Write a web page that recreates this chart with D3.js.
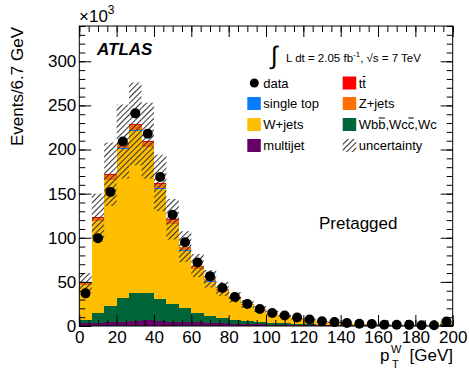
<!DOCTYPE html>
<html>
<head>
<meta charset="utf-8">
<script src="https://cdn.jsdelivr.net/npm/d3@7"></script>
<style>
  body { margin: 0; background: #fff; }
  text { font-family: "Liberation Sans", Arial, Helvetica, sans-serif; fill: #000; }
</style>
</head>
<body>
<div id="chart"></div>
<script>
// 30 bins of 6.7 GeV between 0 and 200 GeV, values in units of 10^3 events
const nBins = 30;
const binWidth = 200 / nBins;

const dataCounts = [37, 99.5, 152, 209, 241, 218, 169, 126, 95, 72, 56.5, 43, 33, 25, 19.3,
  14.8, 11.8, 9.6, 7.4, 5.3, 4.4, 3.3, 2.6, 2.2, 1.4, 1.4, 1.3, 0.8, 0.8, 5.2];

const multijet = [3.5, 3.5, 4, 5, 6, 6.5, 6, 5, 4.5, 4, 3.5, 3, 2.5, 2, 1.8,
  1.5, 1.3, 1.1, 1, 0.9, 0.8, 0.7, 0.6, 0.5, 0.4, 0.4, 0.3, 0.3, 0.3, 1];
const wHeavy = [3.3, 10.9, 18.7, 26.4, 31.8, 31, 25, 19.5, 15.5, 11, 7.5, 5.8, 4.5, 3.5, 2.5,
  2, 1.6, 1.3, 1, 0.8, 0.6, 0.5, 0.4, 0.4, 0.4, 0.3, 0.3, 0.2, 0.2, 0.8];
const wJets = [39.5, 104.6, 142.4, 169.4, 183.2, 164.9, 124.4, 91, 65.4, 49.7, 39.3, 30.6, 23.4, 17.8, 13.5,
  10.1, 7.6, 6, 4.5, 3.3, 2.55, 1.94, 1.52, 1.07, 0.81, 0.64, 0.46, 0.39, 0.31, 2.6];
const singleTop = [0.1, 0.3, 0.5, 0.6, 0.7, 0.7, 0.6, 0.5, 0.4, 0.35, 0.3, 0.25, 0.2, 0.17, 0.14,
  0.12, 0.1, 0.08, 0.07, 0.06, 0.05, 0.04, 0.03, 0.03, 0.02, 0.02, 0.02, 0.01, 0.01, 0.1];
const zJets = [3.5, 3.5, 6, 7, 6.5, 6, 5, 4, 3.3, 2.7, 2.2, 1.8, 1.4, 1.1, 0.9,
  0.7, 0.6, 0.5, 0.4, 0.3, 0.25, 0.2, 0.15, 0.12, 0.1, 0.08, 0.07, 0.06, 0.05, 0.3];
const ttbar = [0.1, 0.2, 0.4, 0.6, 0.8, 0.9, 1.0, 1.0, 0.9, 0.8, 0.7, 0.6, 0.5, 0.45, 0.4,
  0.35, 0.3, 0.25, 0.2, 0.18, 0.15, 0.12, 0.1, 0.08, 0.07, 0.06, 0.05, 0.04, 0.03, 0.2];
const mcUncert = [10, 27, 36, 42, 47, 43, 32, 23, 17.5, 13, 10, 8, 6, 4.5, 3.5,
  2.7, 2.1, 1.7, 1.3, 1, 0.8, 0.6, 0.5, 0.4, 0.3, 0.25, 0.2, 0.15, 0.13, 1];

const xTicks = [0, 20, 40, 60, 80, 100, 120, 140, 160, 180, 200];
const yTicks = [0, 50, 100, 150, 200, 250, 300];

const samples = [
  {key: 'multijet', values: multijet, color: '#660066'},
  {key: 'wHeavy', values: wHeavy, color: '#00663a'},
  {key: 'wJets', values: wJets, color: '#ffbf00'},
  {key: 'singleTop', values: singleTop, color: '#0a7cff'},
  {key: 'zJets', values: zJets, color: '#ff7000'},
  {key: 'ttbar', values: ttbar, color: '#ff0000'}
];

const rows = d3.range(nBins).map(i => {
  const r = {lo: i * binWidth, hi: (i + 1) * binWidth};
  samples.forEach(s => { r[s.key] = s.values[i]; });
  r.data = dataCounts[i];
  r.unc = mcUncert[i];
  return r;
});

const width = 469, height = 372;
const X0 = 79.3, X1 = 452.7, Y0 = 326, Y1 = 26;

const x = d3.scaleLinear().domain([0, 200]).range([X0, X1]);
const y = d3.scaleLinear().domain([0, 340]).range([Y0, Y1]);

const svg = d3.select('#chart').append('svg')
  .attr('width', width)
  .attr('height', height);

const defs = svg.append('defs');
const pat = defs.append('pattern')
  .attr('id', 'hatch')
  .attr('patternUnits', 'userSpaceOnUse')
  .attr('width', 4).attr('height', 4)
  .attr('patternTransform', 'rotate(45)');
pat.append('line')
  .attr('x1', 0.5).attr('y1', 0).attr('x2', 0.5).attr('y2', 4)
  .attr('stroke', '#333').attr('stroke-width', 1.1);

// stacked histogram
const stack = d3.stack().keys(samples.map(s => s.key));
const layers = stack(rows);

svg.append('g').selectAll('g')
  .data(layers)
  .join('g')
  .attr('fill', (d, i) => samples[i].color)
  .selectAll('rect')
  .data(d => d)
  .join('rect')
  .attr('shape-rendering', 'crispEdges')
  .attr('x', d => x(d.data.lo))
  .attr('width', d => x(d.data.hi) - x(d.data.lo))
  .attr('y', d => y(d[1]))
  .attr('height', d => Math.max(0, y(d[0]) - y(d[1])));

// uncertainty band
const total = d => samples.reduce((a, s) => a + d[s.key], 0);
svg.append('g').selectAll('rect')
  .data(rows)
  .join('rect')
  .attr('fill', 'url(#hatch)')
  .attr('x', d => x(d.lo))
  .attr('width', d => x(d.hi) - x(d.lo))
  .attr('y', d => y(total(d) + d.unc))
  .attr('height', d => y(Math.max(0, total(d) - d.unc)) - y(total(d) + d.unc));

// data points
svg.append('g').selectAll('circle')
  .data(rows)
  .join('circle')
  .attr('cx', d => x((d.lo + d.hi) / 2))
  .attr('cy', d => y(d.data))
  .attr('r', 5)
  .attr('fill', '#000');

// axes, ticks point into the frame
function styleAxis(g) {
  g.select('.domain').remove();
  g.selectAll('line').attr('stroke', '#000');
  g.selectAll('text').attr('font-size', 17).attr('font-family', '"Liberation Sans", Arial, sans-serif').attr('fill', '#000');
}
const xMinor = d3.range(0, 201, 5);
const yMinor = d3.range(0, 341, 10);

svg.append('g').attr('transform', `translate(0,${Y0})`)
  .call(d3.axisBottom(x).tickValues(xMinor).tickSizeInner(-6).tickSizeOuter(0).tickFormat(''))
  .call(styleAxis);
svg.append('g').attr('transform', `translate(0,${Y0})`)
  .call(d3.axisBottom(x).tickValues(xTicks).tickSizeInner(-11).tickSizeOuter(0).tickPadding(5).tickFormat(d3.format('d')))
  .call(styleAxis);
svg.append('g').attr('transform', `translate(0,${Y1})`)
  .call(d3.axisTop(x).tickValues(xMinor).tickSizeInner(-6).tickSizeOuter(0).tickFormat(''))
  .call(styleAxis);
svg.append('g').attr('transform', `translate(0,${Y1})`)
  .call(d3.axisTop(x).tickValues(xTicks).tickSizeInner(-11).tickSizeOuter(0).tickFormat(''))
  .call(styleAxis);

svg.append('g').attr('transform', `translate(${X0},0)`)
  .call(d3.axisLeft(y).tickValues(yMinor).tickSizeInner(-6).tickSizeOuter(0).tickFormat(''))
  .call(styleAxis);
svg.append('g').attr('transform', `translate(${X0},0)`)
  .call(d3.axisLeft(y).tickValues(yTicks).tickSizeInner(-12).tickSizeOuter(0).tickPadding(3).tickFormat(d3.format('d')))
  .call(styleAxis);
svg.append('g').attr('transform', `translate(${X1},0)`)
  .call(d3.axisRight(y).tickValues(yMinor).tickSizeInner(-6).tickSizeOuter(0).tickFormat(''))
  .call(styleAxis);
svg.append('g').attr('transform', `translate(${X1},0)`)
  .call(d3.axisRight(y).tickValues(yTicks).tickSizeInner(-12).tickSizeOuter(0).tickFormat(''))
  .call(styleAxis);

svg.append('rect')
  .attr('x', X0).attr('y', Y1)
  .attr('width', X1 - X0).attr('height', Y0 - Y1)
  .attr('fill', 'none').attr('stroke', '#000').attr('stroke-width', 1);

// axis titles
svg.append('text')
  .attr('transform', 'translate(23,27) rotate(-90)')
  .attr('text-anchor', 'end')
  .attr('font-size', 17)
  .text('Events/6.7 GeV');

const mult = svg.append('text').attr('x', 79).attr('y', 22).attr('font-size', 17);
mult.append('tspan').text('×10');
mult.append('tspan').attr('font-size', 12).attr('dy', -8).text('3');

svg.append('text').attr('x', 380).attr('y', 361).attr('font-size', 17).text('p');
svg.append('text').attr('x', 391).attr('y', 353).attr('font-size', 11).text('W');
svg.append('text').attr('x', 392).attr('y', 368).attr('font-size', 11).text('T');
svg.append('text').attr('x', 453).attr('y', 361).attr('text-anchor', 'end').attr('font-size', 17).text('[GeV]');

// labels inside the frame
svg.append('text')
  .attr('x', 97).attr('y', 55)
  .attr('font-size', 17).attr('font-weight', 'bold').attr('font-style', 'italic')
  .text('ATLAS');

svg.append('text').attr('x', 319).attr('y', 229).attr('font-size', 17).text('Pretagged');

svg.append('text').attr('x', 271).attr('y', 64).attr('font-size', 25).text('∫');
const lumi = svg.append('text').attr('x', 286).attr('y', 62).attr('font-size', 11.5);
lumi.append('tspan').text('L dt = 2.05 fb');
lumi.append('tspan').attr('font-size', 8).attr('dy', -5).text('-1');
lumi.append('tspan').attr('dy', 5).text(', √s = 7 TeV');

// legend
const legendItems = [
  {label: 'data', type: 'dot', col: 0, row: 0},
  {label: 'tt', type: 'box', color: '#ff0000', col: 1, row: 0, bars: [1]},
  {label: 'single top', type: 'box', color: '#0a7cff', col: 0, row: 1},
  {label: 'Z+jets', type: 'box', color: '#ff7000', col: 1, row: 1},
  {label: 'W+jets', type: 'box', color: '#ffbf00', col: 0, row: 2},
  {label: 'Wbb,Wcc,Wc', type: 'box', color: '#00663a', col: 1, row: 2, bars: [2, 6]},
  {label: 'multijet', type: 'box', color: '#660066', col: 0, row: 3},
  {label: 'uncertainty', type: 'hatch', col: 1, row: 3}
];
const colX = [247.3, 342.7];
const rowY = [83, 103.5, 124.5, 145.5];

const legend = svg.append('g');
legendItems.forEach(it => {
  const lx = colX[it.col], ly = rowY[it.row];
  if (it.type === 'dot') {
    legend.append('circle').attr('cx', lx + 7).attr('cy', ly).attr('r', 4.5).attr('fill', '#000');
  } else {
    legend.append('rect')
      .attr('x', lx).attr('y', ly - 6.5)
      .attr('width', 13.5).attr('height', 13)
      .attr('fill', it.type === 'hatch' ? 'url(#hatch)' : it.color);
  }
  const t = legend.append('text')
    .attr('x', lx + 16).attr('y', ly + 4.6)
    .attr('font-size', 13)
    .text(it.label);
  if (it.bars) {
    const node = t.node();
    it.bars.forEach(ci => {
      const s = node.getStartPositionOfChar(ci);
      const e = node.getEndPositionOfChar(ci);
      legend.append('line')
        .attr('x1', s.x + 0.5).attr('x2', e.x - 0.5)
        .attr('y1', ly - 6.5).attr('y2', ly - 6.5)
        .attr('stroke', '#000').attr('stroke-width', 1);
    });
  }
});
</script>
</body>
</html>
